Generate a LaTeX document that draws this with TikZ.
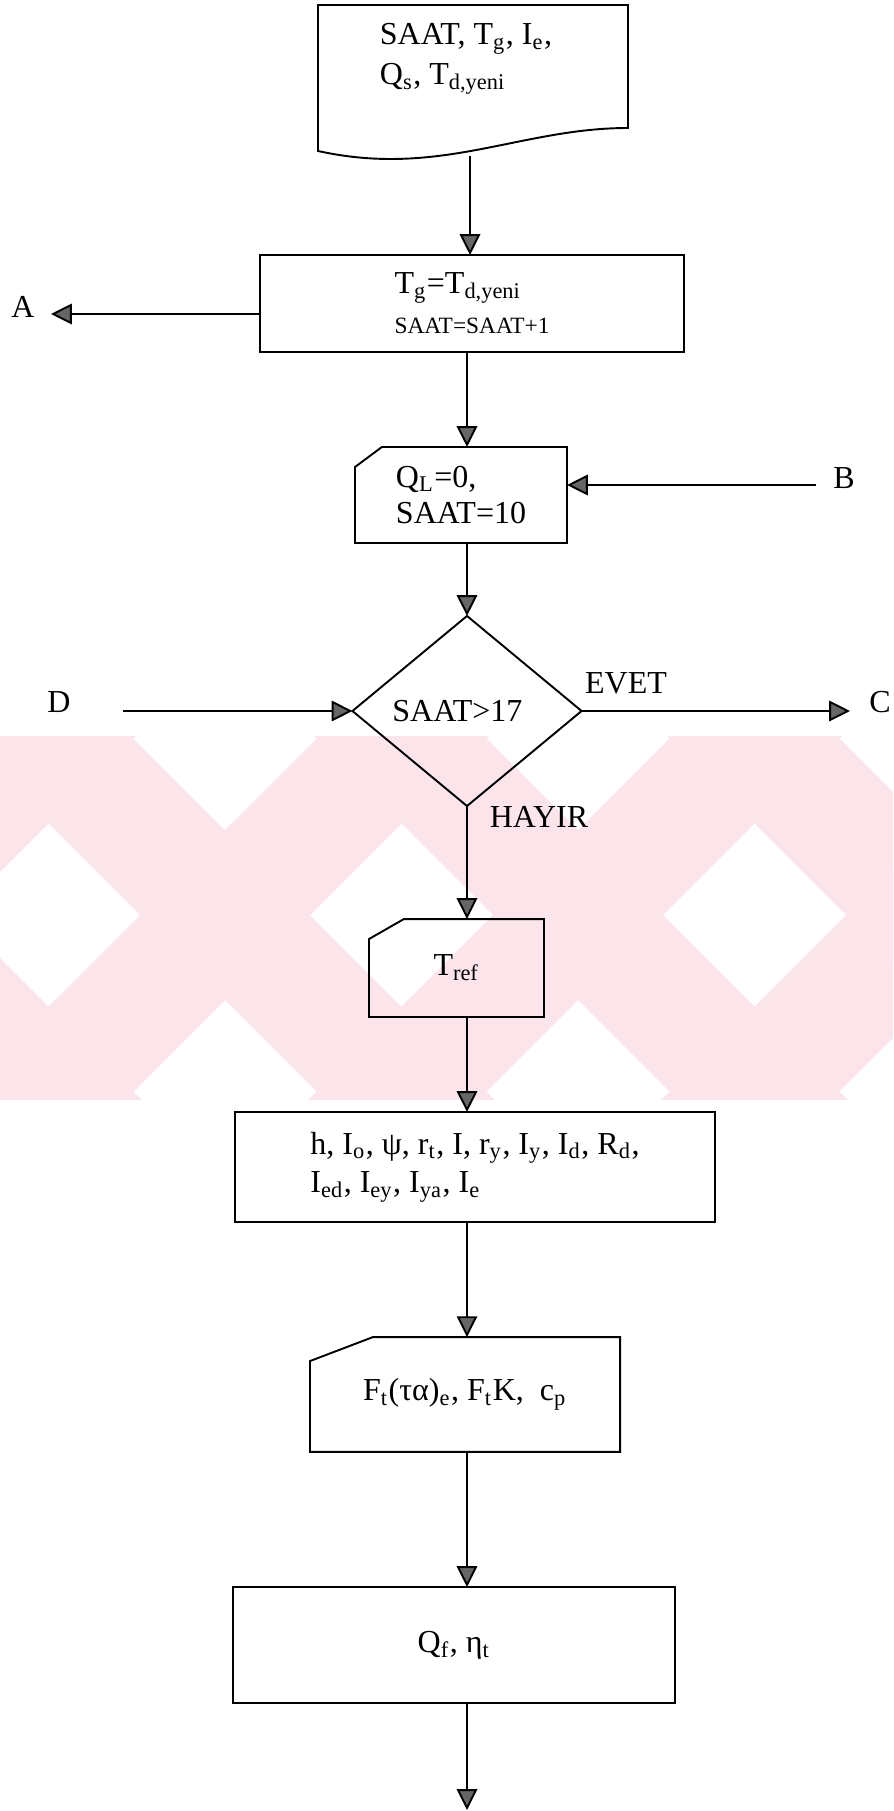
\documentclass[tikz,border=0pt]{standalone}
\usepackage{fontspec}
\setmainfont{Liberation Serif}
\usetikzlibrary{arrows.meta,shapes.geometric}

\definecolor{filigran}{RGB}{252,229,234}

\tikzset{
  cizgi/.style={line width=0.6pt},
  kutu/.style={draw, cizgi, rectangle, inner sep=0pt, outer sep=0pt, align=left, font=\fontsize{10}{12}\selectfont},
  karar/.style={draw, cizgi, diamond, inner sep=0pt, outer sep=0pt, font=\fontsize{10}{12}\selectfont},
  etiket/.style={inner sep=0pt, font=\fontsize{10}{12}\selectfont},
  ok/.style={cizgi, -{Triangle[length=6.5pt,width=6.4pt,fill=black!60]}},
}

\begin{document}
\begin{tikzpicture}[x=0.3125pt, y=-0.3125pt]
	\useasboundingbox (0,0) rectangle (893,1811);
	
	% pale background band
	\begin{scope}
		\clip (0,736) rectangle (893,1099);
		\foreach \c in {-16,337,690,1043}
			\fill[filigran] (-300,{\c-385}) -- (1200,{\c+1115}) -- (1200,{\c+1285}) -- (-300,{\c-215}) -- cycle;
		\foreach \s in {787,1140,1493,1846}
			\fill[filigran] (-300,{\s+215}) -- (1200,{\s-1285}) -- (1200,{\s-1115}) -- (-300,{\s+385}) -- cycle;
	\end{scope}
	
	\coordinate (eksen) at (467,0);
	
	% input document
	\node[etiket, align=left, font=\fontsize{10}{12.5}\selectfont] (giris) at (466,59)
		{SAAT, T\textsubscript{g}, I\textsubscript{e},\\Q\textsubscript{s}, T\textsubscript{d,yeni}};
	\draw[cizgi] (318,151) -- (318,5) -- (628,5) -- (628,128) .. controls (520,128) and (440,178) .. (318,151) -- cycle;
	\coordinate (girisalt) at (470,156);
	
	% update step
	\node[kutu, minimum width=132.5pt, minimum height=30.3pt] (guncelle) at (472,303.5)
		{T\textsubscript{g}=T\textsubscript{d,yeni}\\[0.5pt]{\fontsize{7.3}{8}\selectfont SAAT=SAAT+1}};
	
	% start values (card)
	\node[kutu, draw=none, minimum width=66.25pt, minimum height=30pt, font=\fontsize{10}{11.5}\selectfont] (baslangic) at (461,495)
		{Q\textsubscript{L}=0,\\SAAT=10};
	\draw[cizgi] ([yshift=-6.25pt]baslangic.north west) -- ([xshift=8.4pt]baslangic.north west) -- (baslangic.north east)
		-- (baslangic.south east) -- (baslangic.south west) -- cycle;
	
	% hour check
	\node[karar, minimum width=71.6pt, minimum height=59.4pt] (kontrol) at (467,711) {SAAT>17\kern6pt};
	
	% reference temperature (card)
	\node[kutu, draw=none, minimum width=54.7pt, minimum height=30.6pt] (tref) at (456.5,968) {T\textsubscript{ref}};
	\draw[cizgi] ([yshift=-6.25pt]tref.north west) -- ([xshift=10.9pt]tref.north west) -- (tref.north east)
		-- (tref.south east) -- (tref.south west) -- cycle;
	
	% radiation terms
	\node[kutu, minimum width=150pt, minimum height=34.4pt] (isinim) at (475,1167)
		{h, I\textsubscript{o}, ψ, r\textsubscript{t}, I, r\textsubscript{y}, I\textsubscript{y}, I\textsubscript{d}, R\textsubscript{d},\\I\textsubscript{ed}, I\textsubscript{ey}, I\textsubscript{ya}, I\textsubscript{e}};
	
	% collector parameters (card)
	\node[kutu, draw=none, minimum width=96.9pt, minimum height=35.9pt] (kolektor) at (465,1394.5)
		{F\textsubscript{t}(τα)\textsubscript{e}, F\textsubscript{t}K,\ \ c\textsubscript{p}};
	\draw[cizgi] ([yshift=-7.5pt]kolektor.north west) -- ([xshift=19.7pt]kolektor.north west) -- (kolektor.north east)
		-- (kolektor.south east) -- (kolektor.south west) -- cycle;
	
	% useful heat and efficiency
	\node[kutu, minimum width=138.1pt, minimum height=36.25pt] (verim) at (454,1645) {Q\textsubscript{f}, η\textsubscript{t}};
	\coordinate (son) at (467,1810);
	
	% main flow
	\draw[ok] (girisalt) -- (guncelle.north -| girisalt);
	\draw[ok] (guncelle.south -| eksen) -- (baslangic.north -| eksen);
	\draw[ok] (baslangic.south -| eksen) -- (kontrol.north);
	\draw[ok] (kontrol.south) -- (tref.north -| eksen);
	\draw[ok] (tref.south -| eksen) -- (isinim.north -| eksen);
	\draw[ok] (isinim.south -| eksen) -- (kolektor.north -| eksen);
	\draw[ok] (kolektor.south -| eksen) -- (verim.north -| eksen);
	\draw[ok] (verim.south -| eksen) -- (son);
	
	% connectors A, B, C, D
	\coordinate (Aucu) at (51,314);
	\coordinate (Bucu) at (816,485);
	\coordinate (Cucu) at (850,711);
	\coordinate (Ducu) at (123,711);
	\draw[ok] (guncelle.west |- Aucu) -- (Aucu);
	\draw[ok] (Bucu) -- (baslangic.east |- Bucu);
	\draw[ok] (kontrol.east) -- (Cucu);
	\draw[ok] (Ducu) -- (kontrol.west);
	\node[etiket] (A) at (23,307) {A};
	\node[etiket] (B) at (844,478) {B};
	\node[etiket] (C) at (880,702) {C};
	\node[etiket] (D) at (59,702) {D};
	
	% branch labels
	\node[etiket] (evet) at (626,683) {EVET};
	\node[etiket] (hayir) at (539,817) {HAYIR};
\end{tikzpicture}
\end{document}
